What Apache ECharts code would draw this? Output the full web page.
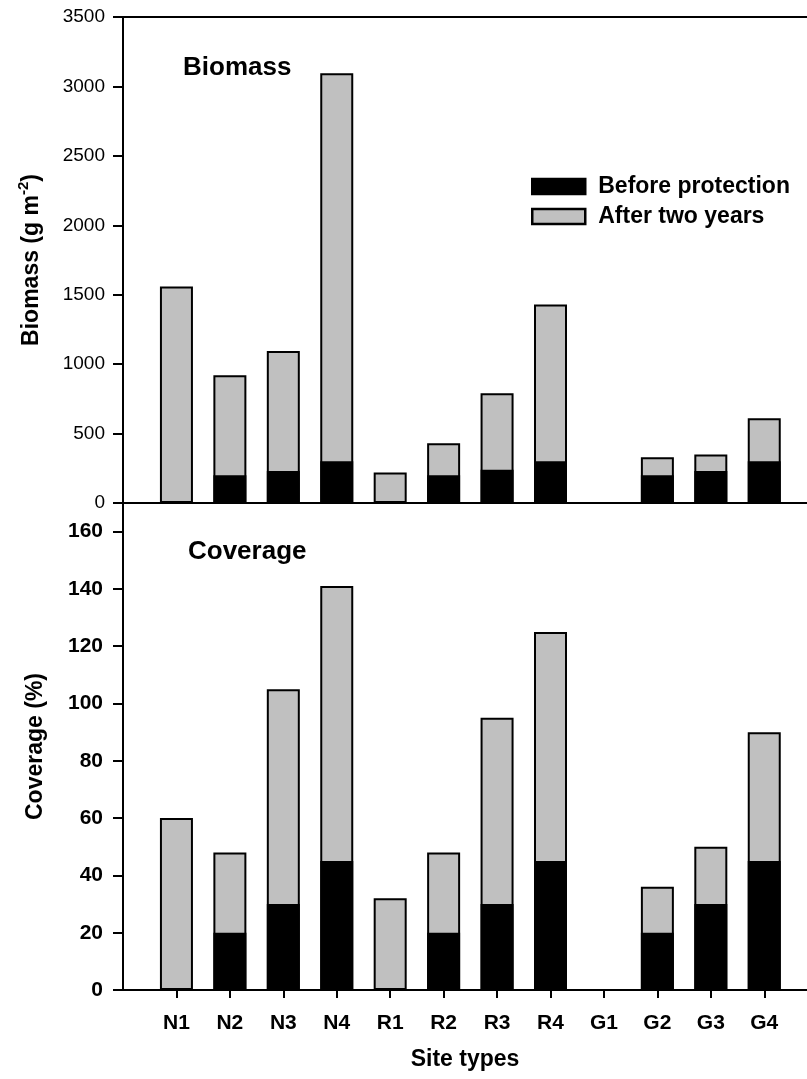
<!DOCTYPE html>
<html>
<head>
<meta charset="utf-8">
<script src="https://cdn.jsdelivr.net/npm/echarts@6/dist/echarts.min.js"></script>
<style>
html,body{margin:0;padding:0;background:#fff;}
#chart{width:807px;height:1079px;}
</style>
</head>
<body>
<div id="chart"></div>
<script>
const categories = ['N1','N2','N3','N4','R1','R2','R3','R4','G1','G2','G3','G4'];
const biomassAfter  = [1560, 920, 1095, 3095, 220, 430, 790, 1430, 0, 330, 350, 610];
const biomassBefore = [0, 200, 230, 300, 0, 200, 240, 300, 0, 200, 230, 300];
const coverageAfter  = [60, 48, 105, 141, 32, 48, 95, 125, 0, 36, 50, 90];
const coverageBefore = [0, 20, 30, 45, 0, 20, 30, 45, 0, 20, 30, 45];
const biomassTicks = [0, 500, 1000, 1500, 2000, 2500, 3000, 3500];
const coverageTicks = [0, 20, 40, 60, 80, 100, 120, 140, 160];

const FONT = '"Liberation Sans", Arial, sans-serif';
const positions = categories.map((c, i) => i + 1);
const pairs = arr => arr.map((v, i) => [i + 1, v]);

const chart = echarts.init(document.getElementById('chart'), null, {renderer: 'canvas'});

const axisLine = {show: true, lineStyle: {color: '#000', width: 2}};
const xBase = {type: 'value', min: 0, max: 12.8, splitLine: {show: false}};

const option = {
  animation: false,
  backgroundColor: '#fff',
  textStyle: {fontFamily: FONT, color: '#000'},
  grid: [
    {left: 123, top: 17, width: 684.6, height: 486},
    {left: 123, top: 503, width: 684.6, height: 487}
  ],
  legend: {
    orient: 'vertical',
    left: 531, top: 175, padding: 0,
    icon: 'rect',
    itemWidth: 53, itemHeight: 15, itemGap: 7,
    itemStyle: {borderColor: '#000', borderWidth: 2.5},
    data: ['Before protection', 'After two years'],
    textStyle: {fontFamily: FONT, fontSize: 23, fontWeight: 'bold', color: '#000', lineHeight: 23, padding: [0, 0, 0, 8]}
  },
  graphic: [
    {type: 'text', left: 183, top: 55, style: {text: 'Biomass', font: 'bold 26px ' + FONT, fill: '#000'}},
    {type: 'text', left: 188, top: 539, style: {text: 'Coverage', font: 'bold 26px ' + FONT, fill: '#000'}}
  ],
  xAxis: [
    Object.assign({}, xBase, {gridIndex: 0, position: 'bottom', axisLine: axisLine, axisTick: {show: false}, axisLabel: {show: false}}),
    Object.assign({}, xBase, {gridIndex: 0, position: 'top', axisLine: axisLine, axisTick: {show: false}, axisLabel: {show: false}}),
    Object.assign({}, xBase, {
      gridIndex: 1, position: 'bottom', axisLine: axisLine,
      axisTick: {show: true, customValues: positions, length: 8, lineStyle: {color: '#000', width: 2}},
      axisLabel: {show: true, customValues: positions, margin: 23, fontSize: 21, fontWeight: 'bold', color: '#000', fontFamily: FONT,
        formatter: v => categories[Math.round(v) - 1] || ''},
      name: 'Site types', nameLocation: 'middle', nameGap: 58,
      nameTextStyle: {fontSize: 23, fontWeight: 'bold', color: '#000', fontFamily: FONT}
    })
  ],
  yAxis: [
    {
      type: 'value', gridIndex: 0, min: 0, max: 3500, interval: 500,
      splitLine: {show: false}, axisLine: axisLine,
      axisTick: {show: true, length: 10, lineStyle: {color: '#000', width: 2}},
      axisLabel: {margin: 18, fontSize: 19, color: '#000', fontFamily: FONT,
        formatter: v => biomassTicks.indexOf(v) >= 0 ? String(v) : ''},
      name: '{a|Biomass (g m}{s|-2}{a|)}', nameLocation: 'middle', nameGap: 75,
      nameTextStyle: {rich: {
        a: {fontSize: 23, fontWeight: 'bold', color: '#000', fontFamily: FONT, lineHeight: 32},
        s: {fontSize: 15, fontWeight: 'bold', color: '#000', fontFamily: FONT, verticalAlign: 'top', lineHeight: 15}
      }}
    },
    {
      type: 'value', gridIndex: 1, min: 0, max: 170, interval: 20,
      splitLine: {show: false}, axisLine: axisLine,
      axisTick: {show: true, length: 10, lineStyle: {color: '#000', width: 2}},
      axisLabel: {margin: 20, fontSize: 21, fontWeight: 'bold', color: '#000', fontFamily: FONT, showMaxLabel: false,
        formatter: v => coverageTicks.indexOf(v) >= 0 ? String(v) : ''},
      name: 'Coverage (%)', nameLocation: 'middle', nameGap: 76,
      nameTextStyle: {fontSize: 23, fontWeight: 'bold', color: '#000', fontFamily: FONT}
    }
  ],
  series: [
    {name: 'After two years', type: 'bar', xAxisIndex: 0, yAxisIndex: 0, barWidth: 33, barGap: '-100%',
      itemStyle: {color: '#c0c0c0', borderColor: '#000', borderWidth: 2}, data: pairs(biomassAfter)},
    {name: 'Before protection', type: 'bar', xAxisIndex: 0, yAxisIndex: 0, barWidth: 33, barGap: '-100%',
      itemStyle: {color: '#000', borderColor: '#000', borderWidth: 0}, data: pairs(biomassBefore)},
    {name: 'After two years', type: 'bar', xAxisIndex: 2, yAxisIndex: 1, barWidth: 33, barGap: '-100%',
      itemStyle: {color: '#c0c0c0', borderColor: '#000', borderWidth: 2}, data: pairs(coverageAfter)},
    {name: 'Before protection', type: 'bar', xAxisIndex: 2, yAxisIndex: 1, barWidth: 33, barGap: '-100%',
      itemStyle: {color: '#000', borderColor: '#000', borderWidth: 0}, data: pairs(coverageBefore)}
  ]
};
chart.setOption(option);
</script>
</body>
</html>
